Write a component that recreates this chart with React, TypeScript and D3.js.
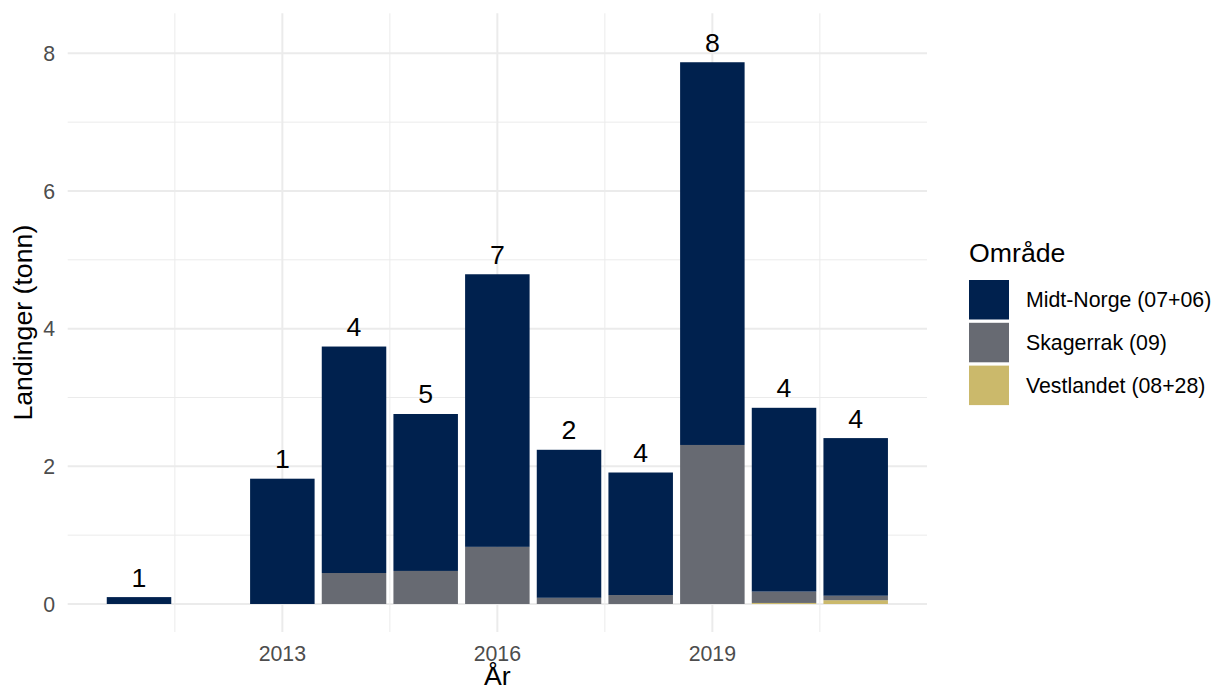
import React from 'react';
import * as d3 from 'd3';

// landings per year and area (tonn)
const years = [2011, 2013, 2014, 2015, 2016, 2017, 2018, 2019, 2020, 2021];
const midtNorge = [0.1, 1.82, 3.29, 2.28, 3.96, 2.15, 1.78, 5.56, 2.67, 2.29];
const skagerrak = [0, 0, 0.45, 0.48, 0.83, 0.09, 0.13, 2.31, 0.165, 0.065];
const vestlandet = [0, 0, 0, 0, 0, 0, 0, 0, 0.015, 0.055];
const counts = [1, 1, 4, 5, 7, 2, 4, 8, 4, 4];

const areas = ['Midt-Norge (07+06)', 'Skagerrak (09)', 'Vestlandet (08+28)'];
const colors = ['#00214E', '#676A72', '#CBB96B'];

const xTicks = [2013, 2016, 2019];
const xMinor = [2011.5, 2014.5, 2017.5, 2020.5];
const yTicks = [0, 2, 4, 6, 8];
const yMinor = [1, 3, 5, 7];

const W = 1215;
const H = 693;
const panel = { left: 67.7, right: 927, top: 13.3, bottom: 632 };
const FONT = '"Liberation Sans", Arial, sans-serif';

const App: React.FC = () => {
    const rows = years.map((y, i) => ({
        year: y,
        [areas[2]]: vestlandet[i],
        [areas[1]]: skagerrak[i],
        [areas[0]]: midtNorge[i],
    }));

    // bottom to top: Vestlandet, Skagerrak, Midt-Norge
    const stack = d3.stack<any>().keys([areas[2], areas[1], areas[0]]);
    const series = stack(rows);

    const x = d3.scaleLinear().domain([2010.005, 2021.995]).range([panel.left, panel.right]);
    const y = d3.scaleLinear().domain([-0.407, 8.581]).range([panel.bottom, panel.top]);
    const barW = x(2011.45) - x(2010.55);

    const totals = years.map((_, i) => midtNorge[i] + skagerrak[i] + vestlandet[i]);

    return (
        <svg width={W} height={H} style={{ position: 'absolute', left: 0, top: 0, background: '#fff' }} fontFamily={FONT}>
            {/* grid */}
            <g>
                {yMinor.map(t => (
                    <line key={'ym' + t} x1={panel.left} x2={panel.right} y1={y(t)} y2={y(t)} stroke="#EBEBEB" strokeWidth={1} />
                ))}
                {xMinor.map(t => (
                    <line key={'xm' + t} x1={x(t)} x2={x(t)} y1={panel.top} y2={panel.bottom} stroke="#EBEBEB" strokeWidth={1} />
                ))}
                {yTicks.map(t => (
                    <line key={'y' + t} x1={panel.left} x2={panel.right} y1={y(t)} y2={y(t)} stroke="#EBEBEB" strokeWidth={2} />
                ))}
                {xTicks.map(t => (
                    <line key={'x' + t} x1={x(t)} x2={x(t)} y1={panel.top} y2={panel.bottom} stroke="#EBEBEB" strokeWidth={2} />
                ))}
            </g>

            {/* bars */}
            {series.map(s => {
                const ci = areas.indexOf(s.key);
                return (
                    <g key={s.key} fill={colors[ci]}>
                        {s.map((d, i) => d[1] - d[0] > 0 ? (
                            <rect
                                key={i}
                                x={x(years[i]) - barW / 2}
                                y={y(d[1])}
                                width={barW}
                                height={y(d[0]) - y(d[1])}
                            />
                        ) : null)}
                    </g>
                );
            })}

            {/* count labels */}
            {years.map((yr, i) => (
                <text key={'c' + yr} x={x(yr)} y={y(totals[i]) - 10.5} textAnchor="middle" fontSize={26.7} fill="#000">
                    {counts[i]}
                </text>
            ))}

            {/* axes text */}
            {xTicks.map(t => (
                <text key={'xl' + t} x={x(t)} y={660.5} textAnchor="middle" fontSize={21.3} fill="#4D4D4D">{t}</text>
            ))}
            {yTicks.map(t => (
                <text key={'yl' + t} x={55} y={y(t)} dy="0.36em" textAnchor="end" fontSize={21.3} fill="#4D4D4D">{t}</text>
            ))}
            <text x={x(2016)} y={685} textAnchor="middle" fontSize={26.7} fill="#000">År</text>
            <text transform={`translate(32,${(panel.top + panel.bottom) / 2}) rotate(-90)`} textAnchor="middle" fontSize={26.7} fill="#000">
                Landinger (tonn)
            </text>

            {/* legend */}
            <g transform="translate(969,0)">
                <text x={0} y={262} fontSize={26.7} fill="#000">Område</text>
                {areas.map((a, i) => (
                    <g key={a} transform={`translate(0,${280 + i * 42.8})`}>
                        <rect x={0} y={0} width={40} height={39.5} fill={colors[i]} />
                        <text x={57} y={19.8} dy="0.36em" fontSize={21.3} fill="#000">{a}</text>
                    </g>
                ))}
            </g>
        </svg>
    );
};

export default App;
